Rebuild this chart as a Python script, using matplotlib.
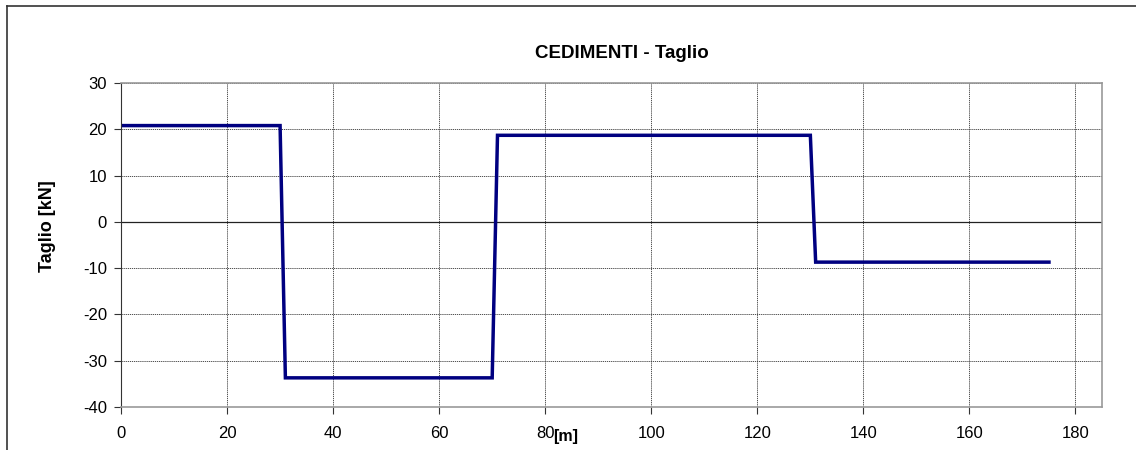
import matplotlib
matplotlib.use('Agg')
import matplotlib.pyplot as plt
from matplotlib.lines import Line2D

plt.rcParams['font.family'] = ['Liberation Sans', 'DejaVu Sans']
plt.rcParams['axes.unicode_minus'] = False

# shear diagram (step-like)
x_m = [0, 30, 31, 70, 71, 130, 131, 175]
taglio_kn = [20.8, 20.8, -33.7, -33.7, 18.7, 18.7, -8.7, -8.7]
x_ticks = [0, 20, 40, 60, 80, 100, 120, 140, 160, 180]
y_ticks = [-40, -30, -20, -10, 0, 10, 20, 30]

fig = plt.figure(figsize=(11.36, 4.5), dpi=100)
ax = fig.add_axes([121/1136, 1-407/450, (1102-121)/1136, (407-83)/450])

ax.grid(True, color='#333333', linestyle=(0, (1.5, 1)), linewidth=0.6)
ax.axhline(0, color='#222222', linewidth=0.9)
ax.plot(x_m, taglio_kn, color='#000080', linewidth=2.5, solid_joinstyle='miter')

ax.set_xlim(0, 185)
ax.set_ylim(-40, 30)
ax.set_xticks(x_ticks)
ax.set_yticks(y_ticks)
ax.tick_params(axis='both', labelsize=12, length=5, width=0.8, color='#333333', direction='out')
ax.tick_params(axis='x', pad=9)
ax.tick_params(axis='y', pad=5)
for s in ['top', 'right', 'bottom']:
    ax.spines[s].set_color('#999999')
    ax.spines[s].set_linewidth(1.2)
ax.spines['left'].set_color('#333333')

fig.text(622/1136, 1-54/450, 'CEDIMENTI - Taglio', ha='center', va='center',
         fontsize=13.5, fontweight='bold')
fig.text(48/1136, 1-226/450, 'Taglio [kN]', rotation=90, ha='center', va='center',
         fontsize=13, fontweight='bold')
fig.text(566/1136, 1-436/450, '[m]', ha='center', va='center',
         fontsize=11.5, fontweight='bold')

# outer chart frame
fig.add_artist(Line2D([7/1136, 1], [1-6/450, 1-6/450], color='#333333', linewidth=1.2))
fig.add_artist(Line2D([7/1136, 7/1136], [0, 1-6/450], color='#333333', linewidth=1.2))

fig.savefig('out.png', dpi=100)
